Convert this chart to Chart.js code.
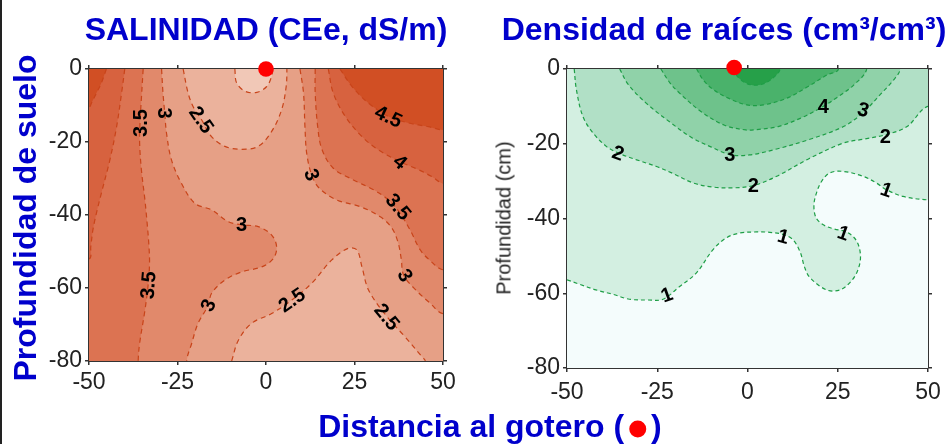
<!DOCTYPE html>
<html>
<head>
<meta charset="utf-8">
<script src="https://cdn.jsdelivr.net/npm/chart.js@4.4.0/dist/chart.umd.min.js"></script>
<style>
  body { margin: 0; background: #fff; }
  #page { position: relative; width: 951px; height: 444px; overflow: hidden; background: #fff;
          font-family: "Liberation Sans", Arial, sans-serif; }
  #page canvas { position: absolute; top: 0; }
  .ttl { position: absolute; transform: translate(-50%, -50%); white-space: nowrap;
         color: #0000cc; font-weight: bold; font-size: 32px; }
  .vert { transform: translate(-50%, -50%) rotate(-90deg); }
  .ax { position: absolute; transform: translate(-50%, -50%) rotate(-90deg); white-space: nowrap;
        color: #222; font-size: 20px; }
  .dot { display: inline-block; width: 17px; height: 17px; border-radius: 50%; background: #ff0000;
         margin: 0 5px; vertical-align: -1px; }
  #edge { position: absolute; left: 0; top: 0; width: 2px; height: 444px; background: #222; }
</style>
</head>
<body>
<div id="page">
  <canvas id="salChart" width="480" height="444" style="left:0"></canvas>
  <canvas id="rootChart" width="471" height="444" style="left:480px"></canvas>
  <div id="edge"></div>
  <div class="ttl" style="left:266px;top:29px">SALINIDAD (CEe, dS/m)</div>
  <div class="ttl" style="left:724px;top:29px">Densidad de raíces (cm³/cm³)</div>
  <div class="ttl vert" style="left:25px;top:218px">Profundidad de suelo</div>
  <div class="ax" style="left:504px;top:218px">Profundidad (cm)</div>
  <div class="ttl" style="left:490px;top:426px">Distancia al gotero (<span class="dot"></span>)</div>
</div>
<script>
const xTicks = [-50, -25, 0, 25, 50];
const yTicks = [0, -20, -40, -60, -80];

// salinity contours, points are [distance cm, depth cm]
const sal45Left = [[-45.1, 0], [-46.5, -3.8], [-47.9, -6.6], [-49.3, -9.3], [-50, -10.5]];
const sal4Left = [[-39.9, 0], [-40.8, -6.6], [-42.2, -15.8], [-44.1, -24.9], [-46.5, -34], [-47.9, -39.5],
  [-48.9, -44.1], [-49.5, -48.7], [-50, -52]];
const sal35Left = [[-34.7, 0], [-35.2, -8], [-35.6, -14.8], [-35.7, -20.3], [-35.2, -27.6], [-34.2, -35.9],
  [-33.6, -42], [-33.1, -48], [-32.9, -53.3], [-33.3, -59.2], [-34.2, -66.1], [-35.7, -75.2], [-36.1, -80]];
const sal3Left = [[-29.5, 0], [-29.1, -6.6], [-28.6, -12.1], [-28.1, -17.6], [-26.7, -24.9], [-23.9, -31.3],
  [-20.1, -36.8], [-15.4, -38.6], [-10.7, -41.8], [-6.9, -42.7], [-2.2, -43.2], [1.6, -45.5], [3, -48.7],
  [2.1, -51.9], [-1.2, -54.2], [-6.9, -55.6], [-11.6, -57.8], [-15.4, -61.5], [-16.3, -64.7], [-19.2, -69.7],
  [-21, -75.2], [-22.4, -80]];
const sal25Top = [[-23.4, 0], [-22, -6.6], [-20.5, -10.5], [-18.2, -13.9], [-15.4, -18.5], [-11.6, -21.2],
  [-6.9, -22], [-2.2, -21.2], [1.6, -17.1], [4.4, -11.2], [5.7, -4.8], [5.9, 0]];
const sal2Top = [[-8.8, 0], [-8.3, -3.8], [-5.9, -6.1], [-2.6, -6.4], [0.2, -4.8], [1.6, -2], [1.9, 0]];
const sal3Right = [[9.6, 0], [10.6, -6.6], [11, -15.8], [11.5, -23.1], [12.9, -29], [15, -32.6], [20, -35.9],
  [26.6, -37.7], [32.3, -40.5], [35.5, -43.5], [37.3, -47.5], [38.2, -52], [38.9, -56.5], [42.6, -60.8],
  [46.4, -64.2], [50, -67]];
const sal35Right = [[13.9, 0], [13.9, -6.6], [14.6, -15.8], [15.8, -22], [19, -27.2], [24.7, -30.4],
  [30.4, -33.1], [34.5, -35.8], [37.5, -39], [40.7, -44.1], [43.6, -49.6], [46.4, -52.5], [50, -55]];
const sal4Right = [[17.6, 0], [19, -6.6], [22.4, -13], [27.1, -18.5], [31.8, -22.2], [37.9, -25.4],
  [43.1, -27.6], [46.9, -29.5], [50, -31.3]];
const sal45Right = [[20.9, 0], [24.3, -4.8], [28.9, -9.3], [34.6, -13], [40.3, -14.8], [45.9, -15.8], [50, -16.7]];
const sal25Bottom = [[-9.7, -80], [-7.8, -74.3], [-4.1, -69.7], [1.6, -67], [7.3, -63.3], [12.9, -58.7],
  [18.6, -52.3], [23.3, -49.1], [25.7, -49.6], [27.1, -54.2], [29, -60.6], [34.2, -67.9], [39.3, -73.4],
  [44.1, -78.9], [45, -80]];

// [text, distance, depth, angle]
const salLabels = [
  ['3.5', -35.4, -14.8, -90], ['3', -28.6, -12.1, 90], ['2.5', -18.2, -13.9, 55],
  ['4.5', 34.6, -13, 25], ['4', 37.9, -25.4, 40], ['3', 12.9, -29, 70], ['3.5', 37.4, -37.7, 50],
  ['3', -6.9, -42.7, 0], ['3.5', -33.3, -59.2, -85], ['3', -16.3, -64.7, -65],
  ['2.5', 7.3, -63.3, -35], ['3', 39.3, -56.5, 60], ['2.5', 34.2, -67.9, 50]
];

// root density contours
const root1 = [[-50, -56.4], [-46.5, -57.6], [-42, -59.1], [-37.2, -60.3], [-32.7, -61.6], [-27.5, -61.8],
  [-23.4, -61.6], [-18.8, -58.2], [-14.2, -54.6], [-9.6, -48.4], [-5.9, -45.2], [-2.2, -43.9], [2.6, -43.6],
  [6.2, -43.7], [10, -44.3], [12.6, -45.7], [14.6, -49], [15.8, -53], [17.3, -55.8], [21.9, -59.1],
  [25.6, -59.1], [28.5, -57], [30.5, -54], [31.3, -50], [30.2, -46], [27.5, -43.6], [24, -42.8], [21, -41.7],
  [19, -39.8], [18.4, -36.5], [19.1, -33.2], [20.5, -30.1], [22.8, -27.8], [26.5, -27.4], [32, -28.7],
  [35.7, -30.5], [38.5, -32.3], [43.1, -34.1], [50, -35]];
const root2 = [[-48, 0], [-47.4, -5.5], [-45.6, -12.7], [-42.8, -17.1], [-39.1, -20.7], [-35.8, -22.5],
  [-30.7, -24.3], [-25.2, -26.1], [-21, -27.8], [-15, -30.5], [-9.5, -31.6], [-3.9, -31.8], [1.6, -31.2],
  [8.1, -28.7], [17, -24], [26.6, -19.8], [32, -18.8], [38.2, -17.6], [44.2, -15.4], [50, -10]];
const root3 = [[-35.4, 0], [-33, -4.2], [-28, -9.2], [-21.5, -14.2], [-15.5, -18.3], [-10, -20.9],
  [-4.9, -22.9], [0.5, -23], [8.1, -21.4], [17, -18.9], [26.6, -15.4], [32.1, -11.6], [36.8, -6.8],
  [40.5, -2.9], [42.3, 0]];
const root4 = [[-24, 0], [-21.5, -3.7], [-19, -6.3], [-13, -11.3], [-6.5, -15], [-0.5, -16.3], [2.6, -16.2],
  [8.5, -15.4], [14.6, -13.2], [21, -10], [24.8, -7.6], [29.4, -4.3], [33, 0]];
const root5 = [[-14.1, 0], [-12.3, -2.9], [-9.5, -5.5], [-5.3, -7.8], [-0.2, -9.6], [4.4, -9.6], [10.9, -7.8],
  [16.4, -4.9], [22, -1.6], [25.2, 0]];
const root6 = [[-4.2, 0], [-2.2, -2.6], [0.8, -4.2], [4.3, -4], [7.3, -2.2], [9, 0]];

const rootLabels = [
  ['2', -35.8, -22.5, 20], ['3', -4.9, -22.9, 0], ['2', 1.6, -31.3, 0], ['4', 21, -10, 0],
  ['3', 32.1, -10.9, 15], ['2', 38.2, -18, 0], ['1', 38.5, -32.3, 20], ['1', 26.6, -43.9, 20],
  ['1', 9.9, -44.8, 15], ['1', -22.4, -60.4, -20]
];

const salDripper = [0, 0];
const rootDripper = [-3.7, 0.4];

// band colours, low to high
const salColors = ['#f1c8b7', '#ebb29c', '#e6a086', '#e1896b', '#dc7352', '#d7623f', '#d14f24'];
const rootColors = ['#f4fcfc', '#d3efe1', '#b1e0c6', '#90d2a9', '#6ec28b', '#4ab26b', '#26a049'];

function polygon(line, close) {
  return line.concat(close).map(([x, y]) => ({ x, y }));
}

function axes(box) {
  const grid = () => ({ display: true, drawOnChartArea: false, drawTicks: true, tickLength: 4,
    color: '#333', lineWidth: 1.5 });
  const border = () => ({ display: true, color: '#333', width: 2 });
  const font = { family: '"Liberation Sans", Arial, sans-serif', size: 23 };
  const setX = s => { s.ticks = xTicks.map(v => ({ value: v })); };
  const setY = s => { s.ticks = yTicks.map(v => ({ value: v })); };
  return {
    x: { type: 'linear', position: 'bottom', min: -50, max: 50, z: 1, grid: grid(), border: border(),
      ticks: { font, color: '#222', padding: box.xPad, maxRotation: 0, autoSkip: false },
      afterBuildTicks: setX, afterFit: s => { s.height = box.bottom; } },
    x2: { type: 'linear', position: 'top', min: -50, max: 50, z: 1, grid: grid(), border: border(),
      ticks: { display: false }, afterBuildTicks: setX, afterFit: s => { s.height = box.top; } },
    y: { type: 'linear', position: 'left', min: -80, max: 0, z: 1, grid: grid(), border: border(),
      ticks: { font, color: '#222', padding: 3, autoSkip: false },
      afterBuildTicks: setY, afterFit: s => { s.width = box.left; } },
    y2: { type: 'linear', position: 'right', min: -80, max: 0, z: 1, grid: grid(), border: border(),
      ticks: { display: false }, afterBuildTicks: setY, afterFit: s => { s.width = box.right; } }
  };
}

function contourPlugin(bg, labels, dripper) {
  return {
    id: 'contour',
    beforeDatasetsDraw(chart) {
      const a = chart.chartArea;
      chart.ctx.save();
      chart.ctx.fillStyle = bg;
      chart.ctx.fillRect(a.left, a.top, a.right - a.left, a.bottom - a.top);
      chart.ctx.restore();
    },
    afterDatasetsDraw(chart) {
      const { ctx, scales: { x, y } } = chart;
      ctx.save();
      ctx.font = 'bold 20px "Liberation Sans", Arial, sans-serif';
      ctx.fillStyle = '#000';
      ctx.textAlign = 'center';
      ctx.textBaseline = 'middle';
      labels.forEach(([t, lx, ly, ang]) => {
        ctx.save();
        ctx.translate(x.getPixelForValue(lx), y.getPixelForValue(ly));
        ctx.rotate(ang * Math.PI / 180);
        ctx.fillText(t, 0, 1);
        ctx.restore();
      });
      ctx.restore();
    },
    afterDraw(chart) {
      const { ctx, scales: { x, y } } = chart;
      ctx.save();
      ctx.fillStyle = '#ff0000';
      ctx.beginPath();
      ctx.arc(x.getPixelForValue(dripper[0]), y.getPixelForValue(dripper[1]), 7.8, 0, Math.PI * 2);
      ctx.fill();
      ctx.restore();
    }
  };
}

function makeChart(id, layers, lineColor, dash, bg, labels, dripper, box) {
  const n = layers.length;
  new Chart(document.getElementById(id), {
    type: 'line',
    data: {
      datasets: layers.map((l, i) => ({
        data: polygon(l.line, l.close),
        fill: 'shape',
        backgroundColor: l.color,
        borderColor: lineColor,
        borderWidth: 1.2,
        borderDash: dash,
        pointRadius: 0,
        tension: 0.35,
        capBezierPoints: false,
        order: n - i
      }))
    },
    options: {
      responsive: false,
      animation: false,
      layout: { padding: 0 },
      plugins: { legend: { display: false }, tooltip: { enabled: false } },
      scales: axes(box)
    },
    plugins: [contourPlugin(bg, labels, dripper)]
  });
}

const T = 12, B = -92, L = -62, R = 62;   // closing corners, outside the plotted window

makeChart('salChart', [
  { line: sal3Left, close: [[-22.4, B], [L, B], [L, T], [-29.5, T]], color: salColors[3] },
  { line: sal35Left, close: [[-36.1, B], [L, B], [L, T], [-34.7, T]], color: salColors[4] },
  { line: sal4Left, close: [[L, -52], [L, T], [-39.9, T]], color: salColors[5] },
  { line: sal45Left, close: [[L, -10.5], [L, T], [-45.1, T]], color: salColors[6] },
  { line: sal3Right, close: [[R, -67], [R, T], [9.6, T]], color: salColors[3] },
  { line: sal35Right, close: [[R, -55], [R, T], [13.9, T]], color: salColors[4] },
  { line: sal4Right, close: [[R, -31.3], [R, T], [17.6, T]], color: salColors[5] },
  { line: sal45Right, close: [[R, -16.7], [R, T], [20.9, T]], color: salColors[6] },
  { line: sal25Top, close: [[5.9, T], [-23.4, T]], color: salColors[1] },
  { line: sal2Top, close: [[1.9, T], [-8.8, T]], color: salColors[0] },
  { line: sal25Bottom, close: [[45, B], [-9.7, B]], color: salColors[1] }
], '#c8441a', [5, 4], salColors[2], salLabels, salDripper,
  { left: 89, right: 37, top: 69, bottom: 83, xPad: 4 });

makeChart('rootChart', [
  { line: root1, close: [[R, -35], [R, T], [L, T], [L, -56.4]], color: rootColors[1] },
  { line: root2, close: [[R, -10], [R, T], [-48, T]], color: rootColors[2] },
  { line: root3, close: [[42.3, T], [-35.4, T]], color: rootColors[3] },
  { line: root4, close: [[33, T], [-24, T]], color: rootColors[4] },
  { line: root5, close: [[25.2, T], [-14.1, T]], color: rootColors[5] },
  { line: root6, close: [[9, T], [-4.2, T]], color: rootColors[6] }
], '#1e9e46', [4, 3], rootColors[0], rootLabels, rootDripper,
  { left: 87, right: 23, top: 69, bottom: 76, xPad: 7 });
</script>
</body>
</html>
